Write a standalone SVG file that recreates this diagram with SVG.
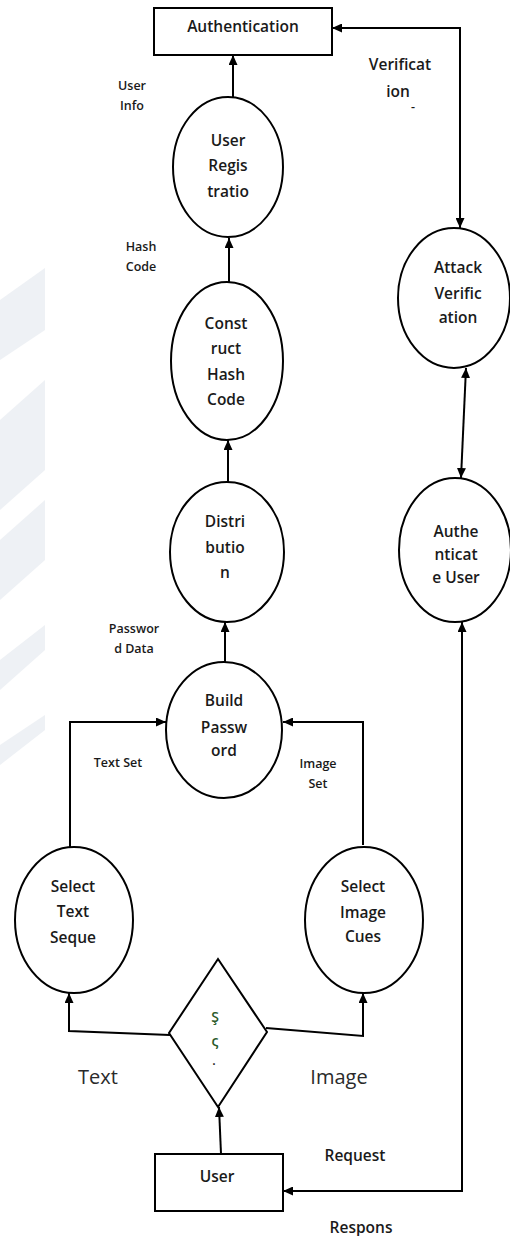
<svg xmlns="http://www.w3.org/2000/svg" width="510" height="1236" viewBox="0 0 510 1236">
<style>
.bg{fill:#eef1f5;stroke:none}
.node{fill:#fff;stroke:#000;stroke-width:2}
.t{font-family:"Open Sans","Liberation Sans",sans-serif;font-weight:600;font-size:15.5px;fill:#1a1a1a;text-anchor:middle}
.s{font-family:"Open Sans","Liberation Sans",sans-serif;font-weight:600;font-size:12.5px;fill:#1a1a1a;text-anchor:middle}
.d{font-family:"Open Sans","Liberation Sans",sans-serif;font-weight:600;font-size:14px;fill:#2a5a2a;text-anchor:middle}
.l{font-family:"Open Sans","Liberation Sans",sans-serif;font-weight:400;font-size:20px;fill:#2a2a2a;text-anchor:middle}
.c{fill:none;stroke:#000;stroke-width:2}
</style>
<defs>
<marker id="ah" viewBox="0 0 10 9" refX="10" refY="4.5" markerWidth="10" markerHeight="9" markerUnits="userSpaceOnUse" orient="auto-start-reverse">
<path d="M0,0 L10,4.5 L0,9 z" fill="#000"/>
</marker>
</defs>
<rect width="510" height="1236" fill="#fff"/>
<g id="watermark">
<polygon class="bg" points="0,300 45,268 45,330 0,360"/>
<polygon class="bg" points="0,420 45,380 45,470 0,510"/>
<polygon class="bg" points="0,540 45,500 45,560 0,600"/>
<polygon class="bg" points="0,660 45,625 45,650 0,690"/>
<polygon class="bg" points="0,745 45,715 45,730 0,765"/>
</g>
<g id="connectors">
<path class="c" d="M233,97 L233,55" marker-end="url(#ah)"/>
<path class="c" d="M229,282 L229,238" marker-end="url(#ah)"/>
<path class="c" d="M228,482 L228,440" marker-end="url(#ah)"/>
<path class="c" d="M225,662 L225,622" marker-end="url(#ah)"/>
<path class="c" d="M70,847 L70,722 L166,722" marker-end="url(#ah)"/>
<path class="c" d="M363,845 L363,722 L283,722" marker-end="url(#ah)"/>
<path class="c" d="M170,1035 L69,1031 L69,993" marker-end="url(#ah)"/>
<path class="c" d="M266,1028 L363,1036 L363,993" marker-end="url(#ah)"/>
<path class="c" d="M221,1154 L219,1107" marker-end="url(#ah)"/>
<path class="c" d="M462,622 L462,1191 L283,1191" marker-start="url(#ah)" marker-end="url(#ah)"/>
<path class="c" d="M332,28 L460,28 L460,228" marker-start="url(#ah)" marker-end="url(#ah)"/>
<path class="c" d="M466,368 L461,478" marker-start="url(#ah)" marker-end="url(#ah)"/>
</g>
<g id="authentication">
<rect class="node" x="154" y="8" width="178" height="47"/>
<text class="t" x="243" y="32">Authentication</text>
</g>
<g id="user-registration">
<ellipse class="node" cx="228" cy="167" rx="55" ry="70"/>
<text class="t" x="228" y="146">User</text>
<text class="t" x="228" y="171">Regis</text>
<text class="t" x="228" y="197">tratio</text>
</g>
<g id="construct-hash-code">
<ellipse class="node" cx="227" cy="361" rx="56" ry="79"/>
<text class="t" x="226" y="329">Const</text>
<text class="t" x="226" y="354">ruct</text>
<text class="t" x="226" y="380">Hash</text>
<text class="t" x="226" y="405">Code</text>
</g>
<g id="distribution">
<ellipse class="node" cx="227" cy="552" rx="57" ry="70"/>
<text class="t" x="225" y="527">Distri</text>
<text class="t" x="225" y="553">butio</text>
<text class="t" x="225" y="578">n</text>
</g>
<g id="build-password">
<ellipse class="node" cx="224" cy="730" rx="58" ry="68"/>
<text class="t" x="224" y="706">Build</text>
<text class="t" x="224" y="733">Passw</text>
<text class="t" x="224" y="756">ord</text>
</g>
<g id="select-text">
<ellipse class="node" cx="74" cy="920" rx="59" ry="73"/>
<text class="t" x="73" y="892">Select</text>
<text class="t" x="73" y="917">Text</text>
<text class="t" x="73" y="943">Seque</text>
</g>
<g id="select-image">
<ellipse class="node" cx="364" cy="920" rx="59" ry="73"/>
<text class="t" x="363" y="892">Select</text>
<text class="t" x="363" y="918">Image</text>
<text class="t" x="363" y="942">Cues</text>
</g>
<g id="decision">
<polygon class="node" points="218,959 267,1032 218,1107 169,1033"/>
<text class="d" x="215" y="1022">Ş</text>
<text class="d" x="215" y="1046">ς</text>
<text class="s" x="214" y="1065" fill="#8a4a1a">.</text>
</g>
<g id="user">
<rect class="node" x="155" y="1154" width="128" height="57"/>
<text class="t" x="217" y="1182">User</text>
</g>
<g id="attack-verification">
<ellipse class="node" cx="454" cy="298" rx="56" ry="70"/>
<text class="t" x="458" y="273">Attack</text>
<text class="t" x="458" y="299">Verific</text>
<text class="t" x="458" y="323">ation</text>
</g>
<g id="authenticate-user">
<ellipse class="node" cx="455" cy="550" rx="56" ry="72"/>
<text class="t" x="456" y="537">Authe</text>
<text class="t" x="456" y="560">nticat</text>
<text class="t" x="456" y="583">e User</text>
</g>
<g id="labels">
<text class="s" x="132" y="90">User</text>
<text class="s" x="132" y="110">Info</text>
<text class="s" x="141" y="251">Hash</text>
<text class="s" x="141" y="271">Code</text>
<text class="s" x="134" y="633">Passwor</text>
<text class="s" x="134" y="653">d Data</text>
<text class="s" x="118" y="767">Text Set</text>
<text class="s" x="318" y="768">Image</text>
<text class="s" x="318" y="788">Set</text>
<text class="t" x="400" y="70">Verificat</text>
<text class="t" x="398" y="97">ion</text>
<text class="s" x="413" y="111">-</text>
<text class="l" x="98" y="1084">Text</text>
<text class="l" x="339" y="1084">Image</text>
<text class="t" x="355" y="1161">Request</text>
<text class="t" x="361" y="1233">Respons</text>
</g>
</svg>
